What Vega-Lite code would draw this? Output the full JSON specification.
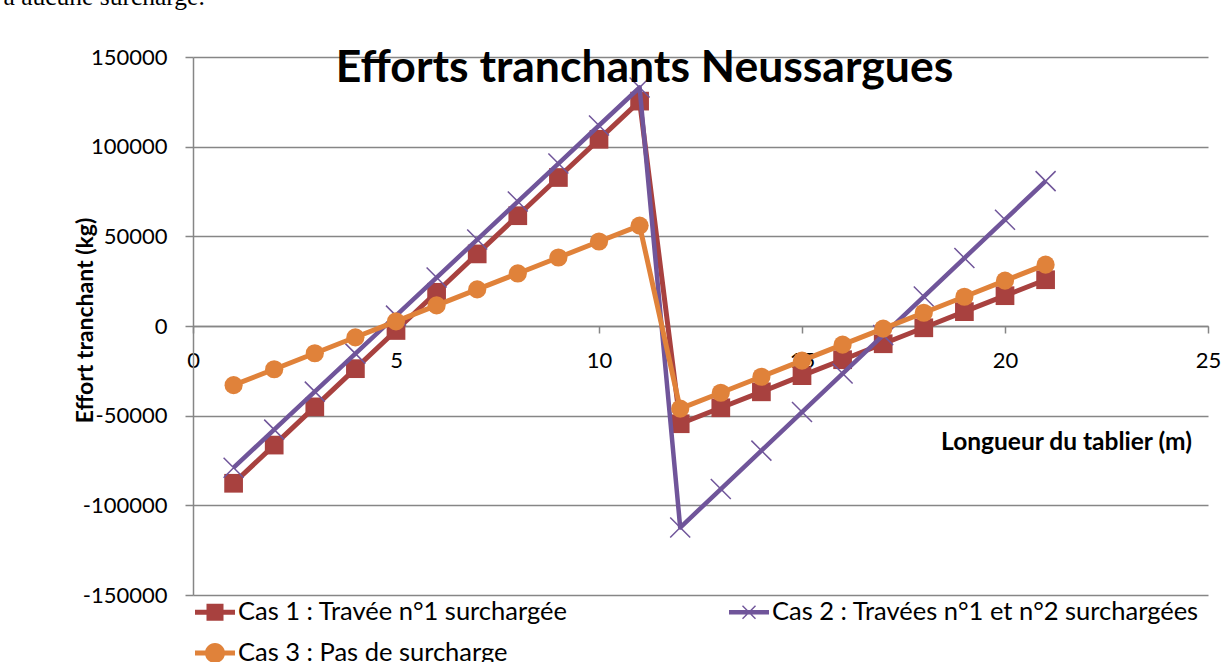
{
  "$schema": "https://vega.github.io/schema/vega-lite/v6.json",
  "width": 1015,
  "height": 538,
  "autosize": {"type": "none"},
  "padding": {"left": 193, "top": 57, "right": 24, "bottom": 67},
  "background": "white",
  "config": {"view": {"stroke": null}, "font": "Lato"},
  "title": {
    "text": "Efforts tranchants Neussargues",
    "font": "Lato",
    "fontSize": 44.5,
    "fontWeight": "bold",
    "color": "black",
    "anchor": "middle",
    "frame": "group",
    "dx": -56,
    "offset": -142,
    "baseline": "alphabetic"
  },
  "datasets": {
    "t": [
      {"k": 1, "cas": "Cas 1 : Travée n°1 surchargée", "x": 1, "v": -87700},
      {"k": 1, "cas": "Cas 1 : Travée n°1 surchargée", "x": 2, "v": -66400},
      {"k": 1, "cas": "Cas 1 : Travée n°1 surchargée", "x": 3, "v": -45100},
      {"k": 1, "cas": "Cas 1 : Travée n°1 surchargée", "x": 4, "v": -23800},
      {"k": 1, "cas": "Cas 1 : Travée n°1 surchargée", "x": 5, "v": -2500},
      {"k": 1, "cas": "Cas 1 : Travée n°1 surchargée", "x": 6, "v": 18800},
      {"k": 1, "cas": "Cas 1 : Travée n°1 surchargée", "x": 7, "v": 40200},
      {"k": 1, "cas": "Cas 1 : Travée n°1 surchargée", "x": 8, "v": 61500},
      {"k": 1, "cas": "Cas 1 : Travée n°1 surchargée", "x": 9, "v": 82800},
      {"k": 1, "cas": "Cas 1 : Travée n°1 surchargée", "x": 10, "v": 104100},
      {"k": 1, "cas": "Cas 1 : Travée n°1 surchargée", "x": 11, "v": 125400},
      {"k": 1, "cas": "Cas 1 : Travée n°1 surchargée", "x": 12, "v": -54500},
      {"k": 1, "cas": "Cas 1 : Travée n°1 surchargée", "x": 13, "v": -45600},
      {"k": 1, "cas": "Cas 1 : Travée n°1 surchargée", "x": 14, "v": -36700},
      {"k": 1, "cas": "Cas 1 : Travée n°1 surchargée", "x": 15, "v": -27700},
      {"k": 1, "cas": "Cas 1 : Travée n°1 surchargée", "x": 16, "v": -18800},
      {"k": 1, "cas": "Cas 1 : Travée n°1 surchargée", "x": 17, "v": -9900},
      {"k": 1, "cas": "Cas 1 : Travée n°1 surchargée", "x": 18, "v": -1000},
      {"k": 1, "cas": "Cas 1 : Travée n°1 surchargée", "x": 19, "v": 8000},
      {"k": 1, "cas": "Cas 1 : Travée n°1 surchargée", "x": 20, "v": 16900},
      {"k": 1, "cas": "Cas 1 : Travée n°1 surchargée", "x": 21, "v": 25800},
      {"k": 2, "cas": "Cas 2 : Travées n°1 et n°2 surchargées", "x": 1, "v": -79000},
      {"k": 2, "cas": "Cas 2 : Travées n°1 et n°2 surchargées", "x": 2, "v": -57800},
      {"k": 2, "cas": "Cas 2 : Travées n°1 et n°2 surchargées", "x": 3, "v": -36600},
      {"k": 2, "cas": "Cas 2 : Travées n°1 et n°2 surchargées", "x": 4, "v": -15400},
      {"k": 2, "cas": "Cas 2 : Travées n°1 et n°2 surchargées", "x": 5, "v": 5800},
      {"k": 2, "cas": "Cas 2 : Travées n°1 et n°2 surchargées", "x": 6, "v": 27000},
      {"k": 2, "cas": "Cas 2 : Travées n°1 et n°2 surchargées", "x": 7, "v": 48200},
      {"k": 2, "cas": "Cas 2 : Travées n°1 et n°2 surchargées", "x": 8, "v": 69400},
      {"k": 2, "cas": "Cas 2 : Travées n°1 et n°2 surchargées", "x": 9, "v": 90600},
      {"k": 2, "cas": "Cas 2 : Travées n°1 et n°2 surchargées", "x": 10, "v": 111800},
      {"k": 2, "cas": "Cas 2 : Travées n°1 et n°2 surchargées", "x": 11, "v": 133000},
      {"k": 2, "cas": "Cas 2 : Travées n°1 et n°2 surchargées", "x": 12, "v": -112400},
      {"k": 2, "cas": "Cas 2 : Travées n°1 et n°2 surchargées", "x": 13, "v": -90900},
      {"k": 2, "cas": "Cas 2 : Travées n°1 et n°2 surchargées", "x": 14, "v": -69500},
      {"k": 2, "cas": "Cas 2 : Travées n°1 et n°2 surchargées", "x": 15, "v": -48000},
      {"k": 2, "cas": "Cas 2 : Travées n°1 et n°2 surchargées", "x": 16, "v": -26500},
      {"k": 2, "cas": "Cas 2 : Travées n°1 et n°2 surchargées", "x": 17, "v": -5100},
      {"k": 2, "cas": "Cas 2 : Travées n°1 et n°2 surchargées", "x": 18, "v": 16400},
      {"k": 2, "cas": "Cas 2 : Travées n°1 et n°2 surchargées", "x": 19, "v": 37900},
      {"k": 2, "cas": "Cas 2 : Travées n°1 et n°2 surchargées", "x": 20, "v": 59300},
      {"k": 2, "cas": "Cas 2 : Travées n°1 et n°2 surchargées", "x": 21, "v": 80800},
      {"k": 3, "cas": "Cas 3 : Pas de surcharge", "x": 1, "v": -33000},
      {"k": 3, "cas": "Cas 3 : Pas de surcharge", "x": 2, "v": -24100},
      {"k": 3, "cas": "Cas 3 : Pas de surcharge", "x": 3, "v": -15200},
      {"k": 3, "cas": "Cas 3 : Pas de surcharge", "x": 4, "v": -6300},
      {"k": 3, "cas": "Cas 3 : Pas de surcharge", "x": 5, "v": 2600},
      {"k": 3, "cas": "Cas 3 : Pas de surcharge", "x": 6, "v": 11500},
      {"k": 3, "cas": "Cas 3 : Pas de surcharge", "x": 7, "v": 20400},
      {"k": 3, "cas": "Cas 3 : Pas de surcharge", "x": 8, "v": 29300},
      {"k": 3, "cas": "Cas 3 : Pas de surcharge", "x": 9, "v": 38200},
      {"k": 3, "cas": "Cas 3 : Pas de surcharge", "x": 10, "v": 47100},
      {"k": 3, "cas": "Cas 3 : Pas de surcharge", "x": 11, "v": 56000},
      {"k": 3, "cas": "Cas 3 : Pas de surcharge", "x": 12, "v": -46100},
      {"k": 3, "cas": "Cas 3 : Pas de surcharge", "x": 13, "v": -37200},
      {"k": 3, "cas": "Cas 3 : Pas de surcharge", "x": 14, "v": -28300},
      {"k": 3, "cas": "Cas 3 : Pas de surcharge", "x": 15, "v": -19300},
      {"k": 3, "cas": "Cas 3 : Pas de surcharge", "x": 16, "v": -10400},
      {"k": 3, "cas": "Cas 3 : Pas de surcharge", "x": 17, "v": -1500},
      {"k": 3, "cas": "Cas 3 : Pas de surcharge", "x": 18, "v": 7400},
      {"k": 3, "cas": "Cas 3 : Pas de surcharge", "x": 19, "v": 16300},
      {"k": 3, "cas": "Cas 3 : Pas de surcharge", "x": 20, "v": 25300},
      {"k": 3, "cas": "Cas 3 : Pas de surcharge", "x": 21, "v": 34200}
    ]
  },
  "data": {"name": "t"},
  "encoding": {
    "y": {
      "field": "v",
      "type": "quantitative",
      "scale": {"domain": [-150000, 150000], "nice": false, "zero": false},
      "axis": {
        "title": "Effort tranchant  (kg)",
        "values": [-150000, -100000, -50000, 0, 50000, 100000, 150000],
        "labelExpr": "'' + datum.value",
        "grid": true,
        "gridColor": "#868686",
        "gridWidth": 1.5,
        "domainColor": "#868686",
        "domainWidth": 1.5,
        "tickColor": "#868686",
        "tickSize": 8,
        "tickWidth": 1.5,
        "labelFont": "Lato",
        "labelFontSize": 22,
        "labelColor": "black",
        "labelPadding": 18,
        "labelOverlap": false,
        "titleFont": "Lato",
        "titleFontSize": 23,
        "titleFontWeight": "bold",
        "titleColor": "black",
        "titleAngle": -90,
        "titleX": -108,
        "titleY": 263,
        "titleAlign": "center",
        "titleBaseline": "middle"
      }
    }
  },
  "layer": [
    {
      "encoding": {
        "x": {
          "field": "x",
          "type": "quantitative",
          "scale": {"domain": [0, 25], "nice": false, "zero": false},
          "axis": {
            "title": "Longueur du tablier (m)",
            "values": [0, 5, 10, 15, 20, 25],
            "grid": false,
            "offset": -269,
            "domainColor": "#868686",
            "domainWidth": 1.5,
            "tickColor": "#868686",
            "tickSize": 7,
            "tickWidth": 1.5,
            "labelFont": "Lato",
            "labelFontSize": 22,
            "labelColor": "black",
            "labelPadding": 17,
            "labelFlush": false,
            "labelOverlap": false,
            "titleFont": "Lato",
            "titleFontSize": 24.5,
            "titleFontWeight": "bold",
            "titleColor": "black",
            "titleX": 873,
            "titleY": 123,
            "titleAlign": "center",
            "titleBaseline": "alphabetic"
          }
        }
      },
      "layer": [
        {
          "transform": [{"filter": {"field": "k", "equal": 1}}],
          "mark": {"type": "line", "color": "#A8413F", "strokeWidth": 5, "strokeJoin": "round"}
        },
        {
          "transform": [{"filter": {"field": "k", "equal": 1}}],
          "mark": {"type": "point", "shape": "square", "filled": true, "size": 350, "color": "#A8413F", "opacity": 1}
        },
        {
          "transform": [{"filter": {"field": "k", "equal": 2}}],
          "mark": {"type": "line", "color": "#70559A", "strokeWidth": 4.5, "strokeJoin": "round"}
        },
        {
          "transform": [{"filter": {"field": "k", "equal": 2}}],
          "mark": {"type": "point", "shape": "M-1,-1L1,1M1,-1L-1,1", "filled": false, "size": 400, "color": "#70559A", "strokeWidth": 1.5, "opacity": 1}
        },
        {
          "transform": [{"filter": {"field": "k", "equal": 3}}],
          "mark": {"type": "line", "color": "#E0823A", "strokeWidth": 5, "strokeJoin": "round"}
        },
        {
          "transform": [{"filter": {"field": "k", "equal": 3}}],
          "mark": {"type": "point", "shape": "circle", "filled": true, "size": 330, "color": "#E0823A", "opacity": 1}
        }
      ]
    },
    {
      "mark": {"type": "point", "filled": true, "opacity": 0},
      "encoding": {
        "x": {
          "field": "x",
          "type": "quantitative",
          "scale": {"domain": [0, 25], "nice": false, "zero": false},
          "axis": {
            "orient": "top",
            "title": "à aucune surcharge.",
            "labels": false,
            "ticks": false,
            "domain": false,
            "grid": false,
            "titleFont": "Liberation Serif",
            "titleFontSize": 25.5,
            "titleFontWeight": "normal",
            "titleColor": "black",
            "titleX": -190,
            "titleY": -53,
            "titleAlign": "left",
            "titleBaseline": "alphabetic"
          }
        },
        "color": {
          "field": "cas",
          "type": "nominal",
          "scale": {
            "domain": ["Cas 1 : Travée n°1 surchargée", "Cas 2 : Travées n°1 et n°2 surchargées", "Cas 3 : Pas de surcharge"],
            "range": ["#A8413F", "#70559A", "#E0823A"]
          },
          "legend": {
            "title": null,
            "orient": "none",
            "direction": "horizontal",
            "legendX": 2,
            "legendY": 535,
            "columns": 2,
            "columnPadding": 161,
            "rowPadding": 7,
            "symbolSize": 1600,
            "symbolStrokeWidth": 0,
            "symbolOpacity": 1,
            "labelFont": "Lato",
            "labelFontSize": 25.5,
            "labelColor": "black",
            "labelLimit": 700,
            "labelOffset": 3,
            "padding": 0
          }
        },
        "shape": {
          "field": "cas",
          "type": "nominal",
          "scale": {
            "domain": ["Cas 1 : Travée n°1 surchargée", "Cas 2 : Travées n°1 et n°2 surchargées", "Cas 3 : Pas de surcharge"],
            "range": [
              "M-1,-0.125H1V0.125H-1Z M-0.425,-0.425H0.425V0.425H-0.425Z",
              "M-1,-0.11H1V0.11H-1Z M-0.3,-0.35L0.35,0.3L0.3,0.35L-0.35,-0.3Z M0.35,-0.3L-0.3,0.35L-0.35,0.3L0.3,-0.35Z",
              "M-1,-0.125H1V0.125H-1Z M0.5,0A0.5,0.5 0 1,1 -0.5,0A0.5,0.5 0 1,1 0.5,0Z"
            ]
          },
          "legend": {
            "title": null,
            "orient": "none",
            "direction": "horizontal",
            "legendX": 2,
            "legendY": 535,
            "columns": 2,
            "columnPadding": 161,
            "rowPadding": 7,
            "symbolSize": 1600,
            "symbolStrokeWidth": 0,
            "symbolOpacity": 1,
            "labelFont": "Lato",
            "labelFontSize": 25.5,
            "labelColor": "black",
            "labelLimit": 700,
            "labelOffset": 3,
            "padding": 0
          }
        }
      }
    }
  ],
  "resolve": {"axis": {"x": "independent"}}
}
